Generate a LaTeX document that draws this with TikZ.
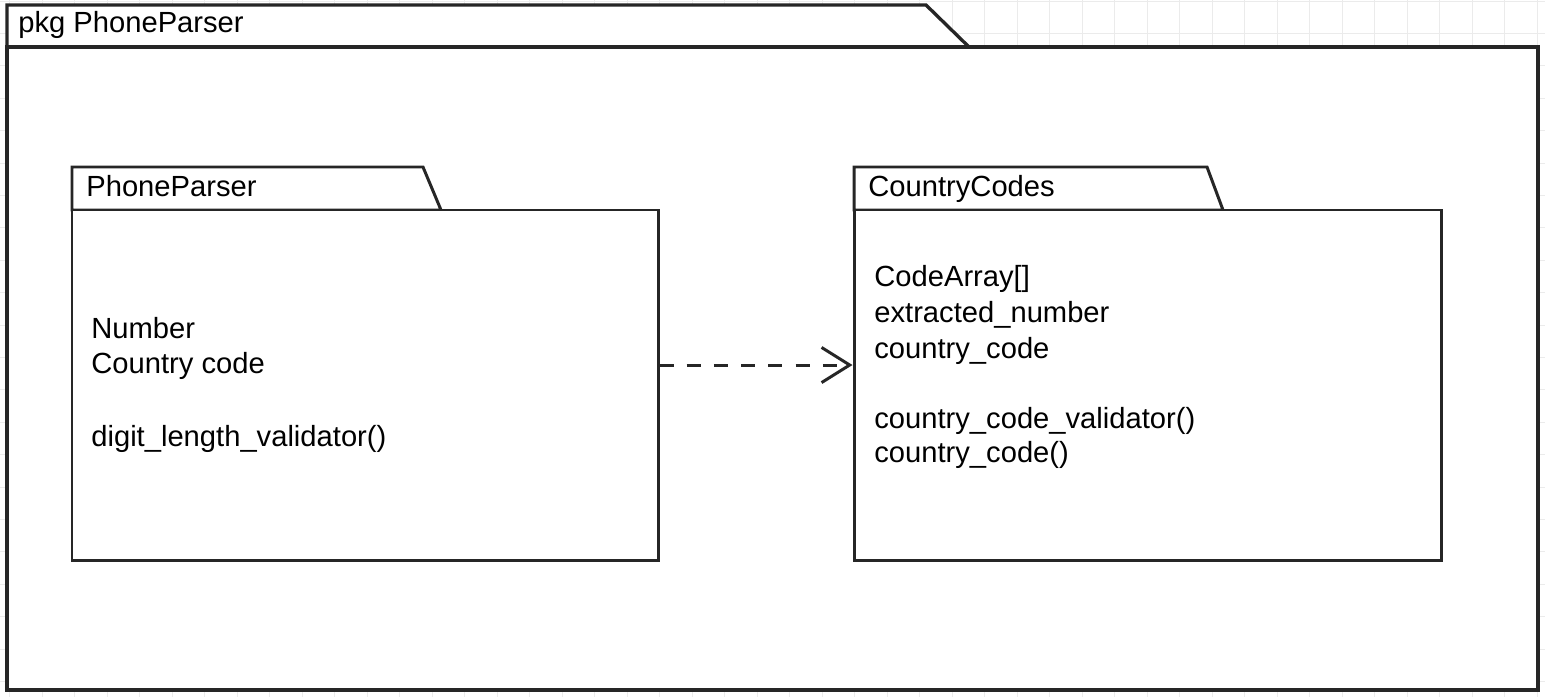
\documentclass[tikz,border=0pt]{standalone}
\usepackage{fontspec}
\setmainfont{Liberation Sans}
\usetikzlibrary{arrows.meta,fit}

\tikzset{
  gridline/.style={draw=black!8, line width=0.5pt},
  pkgline/.style={draw=black!85, line width=1.7pt, fill=white, line join=miter},
  outerline/.style={pkgline, line width=1.9pt},
  pkgbody/.style={pkgline, rectangle, inner sep=0pt},
  uml/.style={anchor=base west, inner sep=0pt, font=\fontsize{16.6}{20}\selectfont},
  dep/.style={draw=black!85, line width=1.7pt, dash pattern=on 8pt off 7.5pt,
    -{Straight Barb[length=16pt,width=20pt,line width=1.7pt]}}
}

\begin{document}
\begin{tikzpicture}[x=0.02cm,y=-0.02cm]
  \useasboundingbox (0,0) rectangle (1545,697);
  \fill[white] (0,0) rectangle (1545,697);
  % faint background grid
  \foreach \gx in {0,...,47}
    \draw[gridline] ({9.5+32.5*\gx},0) -- ({9.5+32.5*\gx},697);
  \foreach \gy in {0,...,21}
    \draw[gridline] (0,{1+32.4*\gy}) -- (1545,{1+32.4*\gy});

  % outer package
  \draw[outerline] (7,47) -- (7,5) -- (926,5) -- (969,47) -- cycle;
  \node[pkgbody, outerline, fit={(7,47) (1538,690)}] (pkgOuter) {};
  \node[uml] (pkgOuterName) at (18,32) {pkg PhoneParser};

  % PhoneParser package
  \draw[pkgline] (72,210) -- (72,167) -- (423,167) -- (441,210) -- cycle;
  \node[pkgbody, fit={(72,210) (658,560)}] (ppBody) {};
  \node[uml] (ppName) at (86,196) {PhoneParser};
  \node[uml] (ppNumber) at (91,338) {Number};
  \node[uml] (ppCountry) at (91,373) {Country code};
  \node[uml] (ppValidator) at (91,446) {digit\_length\_validator()};

  % CountryCodes package
  \draw[pkgline] (854,210) -- (854,167) -- (1207,167) -- (1223,210) -- cycle;
  \node[pkgbody, fit={(854,210) (1441,560)}] (ccBody) {};
  \node[uml] (ccName) at (868,196) {CountryCodes};
  \node[uml] (ccArray) at (874,286) {CodeArray[]};
  \node[uml] (ccExtracted) at (874,322) {extracted\_number};
  \node[uml] (ccCode) at (874,358) {country\_code};
  \node[uml] (ccValidator) at (874,428) {country\_code\_validator()};
  \node[uml] (ccCodeFn) at (874,462) {country\_code()};

  % dependency
  \draw[dep] ([yshift=0.4cm]ppBody.east) -- ([yshift=0.4cm]ccBody.west);
\end{tikzpicture}
\end{document}
